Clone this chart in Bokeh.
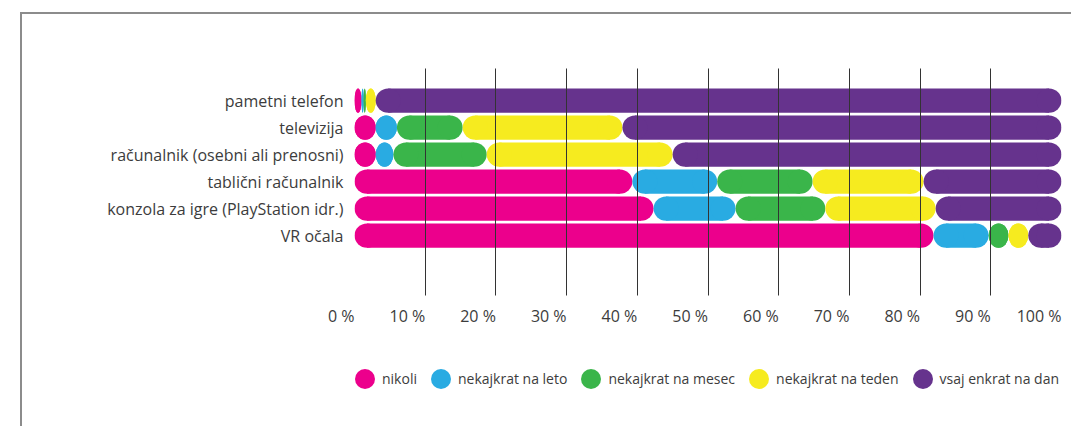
from bokeh.plotting import figure
from bokeh.layouts import column
from bokeh.models import Range1d, FixedTicker, Legend, LegendItem, InlineStyleSheet
from bokeh.embed import file_html
from bokeh.resources import INLINE

categories = ["pametni telefon", "televizija", "računalnik (osebni ali prenosni)",
              "tablični računalnik", "konzola za igre (PlayStation idr.)", "VR očala"]
series_names = ["nikoli", "nekajkrat na leto", "nekajkrat na mesec",
                "nekajkrat na teden", "vsaj enkrat na dan"]
nikoli = [1.0, 3.0, 3.0, 39.3, 42.3, 81.9]
na_leto = [0.3, 3.0, 2.5, 12.0, 11.6, 7.8]
na_mesec = [0.3, 9.3, 13.2, 13.5, 12.7, 2.8]
na_teden = [1.4, 22.6, 26.3, 15.7, 15.6, 2.8]
na_dan = [97.0, 62.1, 55.0, 19.5, 17.8, 4.7]
x_ticks = [0, 10, 20, 30, 40, 50, 60, 70, 80, 90, 100]
x_tick_labels = ["0 %", "10 %", "20 %", "30 %", "40 %", "50 %", "60 %", "70 %", "80 %", "90 %", "100 %"]

series = [nikoli, na_leto, na_mesec, na_teden, na_dan]
colors = ["#EC008C", "#29ABE2", "#3AB54A", "#F6EB1F", "#66338D"]
FONT = "Open Sans"
TXT = "#3c3c3c"

W, H = 1071, 340
H_LEG = 86
ML, MR, MT, MB = 354, 10, 68, 38
frame_w = W - ML - MR
frame_h = H - MT - MB
y0, y1 = 7.22, -1.19
bar_h = 0.9
px_per_x = frame_w / 100.0
px_per_y = frame_h / (y0 - y1)
cap_full = bar_h * px_per_y / px_per_x  # semicircle cap width in x data units

css_top = (":host::after { content: ''; position: absolute; left: 20px; top: 12px; right: 0; bottom: 0;"
           " border-left: 2px solid #8c8c8c; border-top: 2px solid #8c8c8c; pointer-events: none; }")
css_leg = (":host::after { content: ''; position: absolute; left: 20px; top: 0; right: 0; bottom: 0;"
           " border-left: 2px solid #8c8c8c; pointer-events: none; }")

p = figure(width=W, height=H, x_range=Range1d(0, 100), y_range=Range1d(y0, y1),
           output_backend="svg", toolbar_location=None,
           min_border_left=ML, min_border_right=MR, min_border_top=MT, min_border_bottom=MB,
           stylesheets=[InlineStyleSheet(css=css_top)])
p.outline_line_color = None
p.background_fill_color = None
p.border_fill_color = None

rows = list(range(len(categories)))
left = [0.0] * len(categories)
for vals, col in zip(series, colors):
    lefts = left[:]
    rights = [l + v for l, v in zip(lefts, vals)]
    caps = [min(v, cap_full) for v in vals]
    rl, rr, ry = [], [], []
    for l, r, c, y in zip(lefts, rights, caps, rows):
        if r - c / 2 > l + c / 2:
            rl.append(l + c / 2); rr.append(r - c / 2); ry.append(y)
    p.hbar(y=ry, left=rl, right=rr, height=bar_h, fill_color=col, line_color=None)
    ex = [l + c / 2 for l, c in zip(lefts, caps)] + [r - c / 2 for r, c in zip(rights, caps)]
    ew = caps + caps
    ey = rows + rows
    p.ellipse(x=ex, y=ey, width=ew, height=bar_h, fill_color=col, line_color=None)
    left = rights

p.ygrid.visible = False
p.xgrid.ticker = FixedTicker(ticks=x_ticks)
p.xgrid.grid_line_color = "#333333"
p.xgrid.grid_line_width = 1
p.xgrid.level = "annotation"

xa = p.xaxis[0]
xa.ticker = FixedTicker(ticks=x_ticks)
xa.major_label_overrides = {t: s for t, s in zip(x_ticks, x_tick_labels)}
xa.axis_line_color = None
xa.major_tick_line_color = None
xa.minor_tick_line_color = None
xa.major_label_standoff = 14
xa.major_label_orientation = 0.0001
xa.major_label_text_font = FONT
xa.major_label_text_font_size = "16px"
xa.major_label_text_color = TXT

ya = p.yaxis[0]
ya.ticker = FixedTicker(ticks=rows)
ya.major_label_overrides = {i: c for i, c in zip(rows, categories)}
ya.axis_line_color = None
ya.major_tick_line_color = None
ya.minor_tick_line_color = None
ya.major_tick_out = 0
ya.major_label_standoff = 11
ya.major_label_text_font = FONT
ya.major_label_text_font_size = "16px"
ya.major_label_text_color = TXT

# legend in its own strip below the chart (its frame is aligned with the chart frame)
pl = figure(width=W, height=H_LEG, x_range=Range1d(0, 1), y_range=Range1d(0, 1),
            output_backend="svg", toolbar_location=None,
            min_border_left=0, min_border_right=0, min_border_top=0, min_border_bottom=0,
            stylesheets=[InlineStyleSheet(css=css_leg)])
pl.axis.visible = False
pl.grid.visible = False
pl.outline_line_color = None
pl.background_fill_color = None
pl.border_fill_color = None
items = []
for name, col in zip(series_names, colors):
    r = pl.ellipse(x=[float("nan")], y=[float("nan")], width=20, height=20,
                   width_units="screen", height_units="screen", fill_color=col, line_color=None)
    items.append(LegendItem(label=name, renderers=[r]))
legend = Legend(items=items, orientation="horizontal", location=(-2, 35),
                glyph_width=25, glyph_height=25, label_standoff=5, spacing=11,
                padding=0, margin=0, border_line_color=None, background_fill_alpha=0,
                label_text_font=FONT, label_text_font_size="14px", label_text_color=TXT)
pl.add_layout(legend, "center")

layout = column(p, pl, spacing=0)
open("out.html", "w").write(file_html(layout, INLINE))
